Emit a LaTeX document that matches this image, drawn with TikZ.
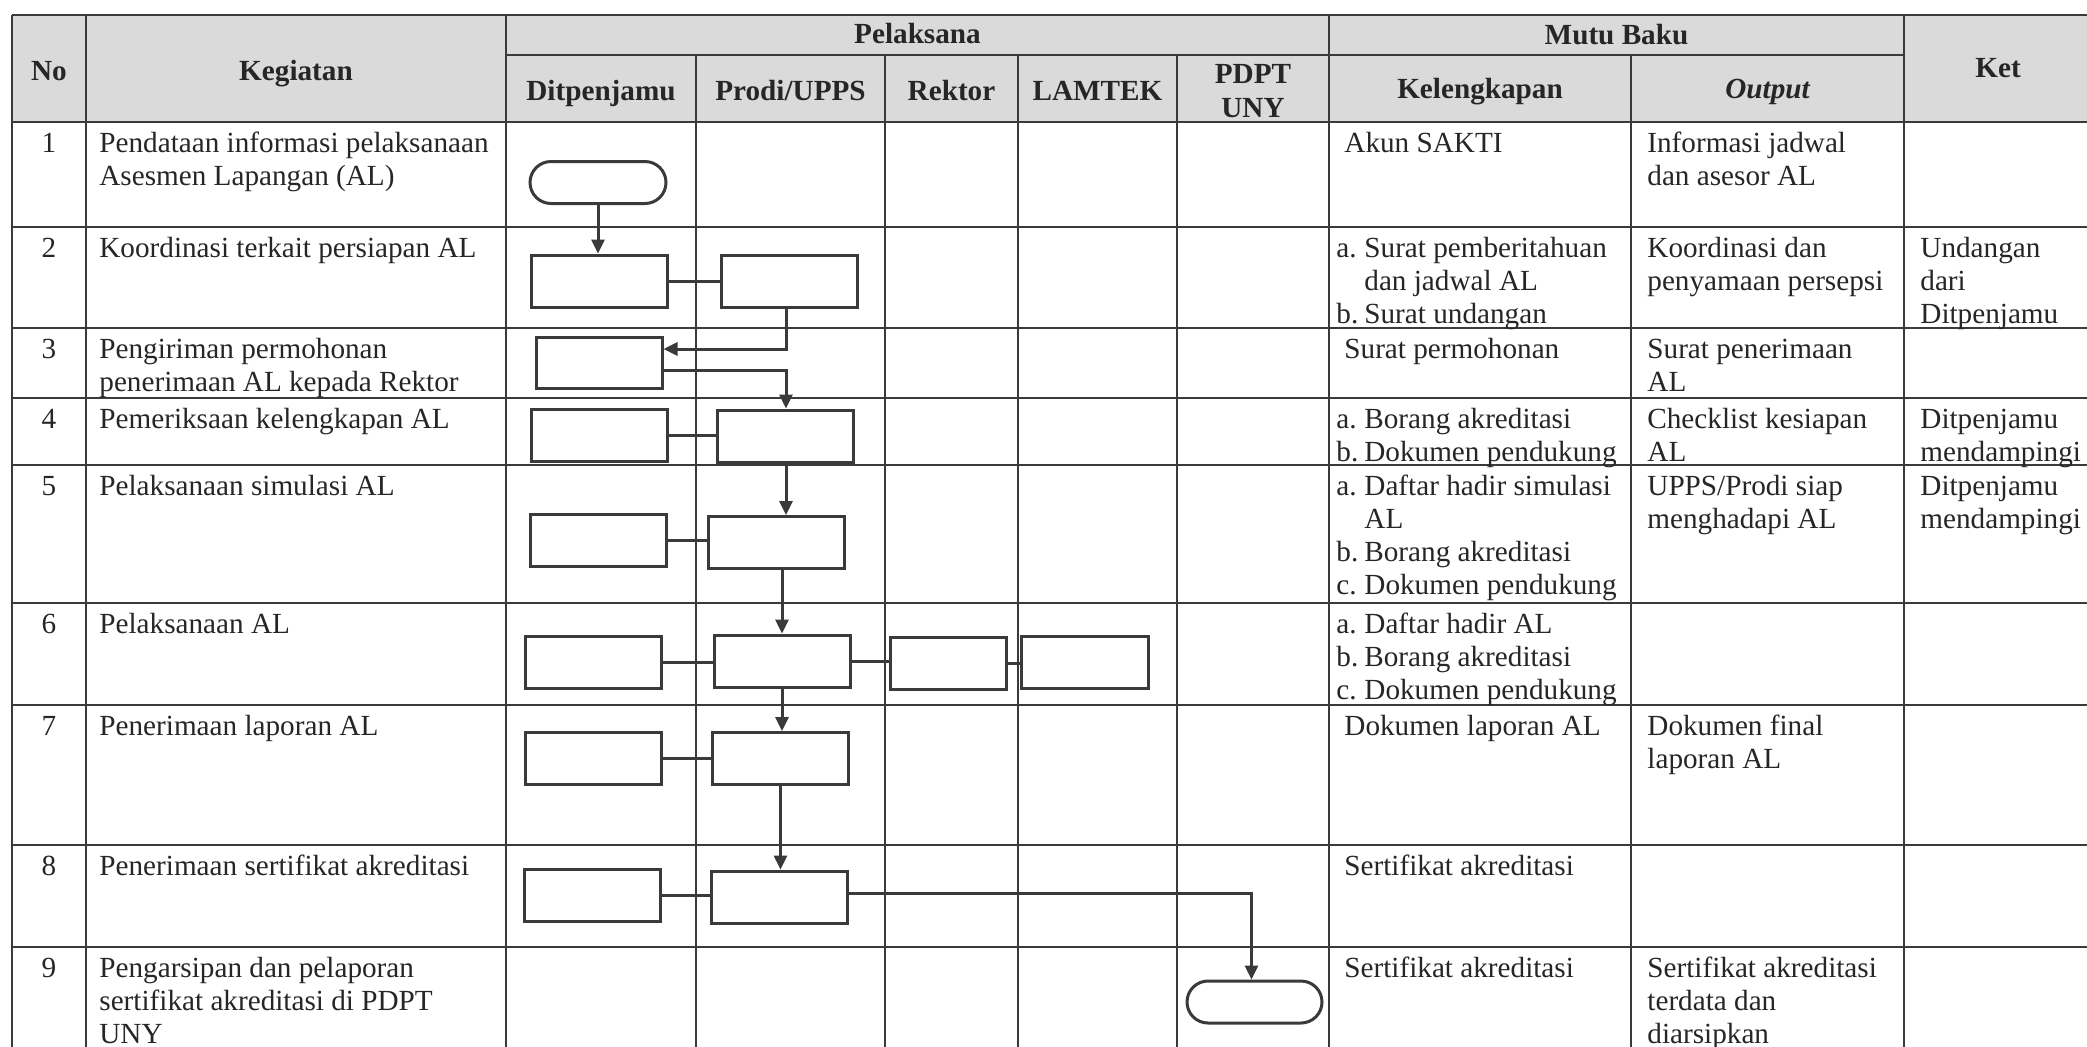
\documentclass[tikz,border=0pt]{standalone}
\usepackage{fontspec}
\setmainfont{Liberation Serif}
\usetikzlibrary{arrows.meta,shapes.misc}
\definecolor{ln}{HTML}{3A3A3A}
\definecolor{tx}{HTML}{262626}
\definecolor{hd}{HTML}{DADADA}
\newcommand{\kitem}[1]{\makebox[14pt][l]{#1}}
\newcommand{\kind}{\hspace*{14pt}}
\newcommand{\bodysize}{\fontsize{14.6pt}{16.5pt}\selectfont}
\tikzset{
  gridline/.style={draw=ln, line width=0.9pt},
  procbox/.style={draw=ln, line width=1.5pt, fill=white, minimum width=68pt, minimum height=26pt, inner sep=0pt},
  term/.style={draw=ln, line width=1.5pt, fill=white, rounded rectangle, minimum width=68pt, minimum height=21pt, inner sep=0pt},
  flow/.style={draw=ln, line width=1.5pt, -{Triangle[length=7pt,width=6.5pt]}},
  link/.style={draw=ln, line width=1.5pt},
  hdr/.style={font=\bodysize\bfseries, text=tx, inner sep=0pt, anchor=base},
  cell/.style={text=tx, inner sep=0pt, anchor=north west, align=left},
  num/.style={text=tx, inner sep=0pt, anchor=north},
}
\begin{document}
\begin{tikzpicture}[x=0.5pt, y=-0.5pt, font=\bodysize]
\useasboundingbox (0,0) rectangle (2087,1046);
\clip (0,0) rectangle (2087,1046);
\fill[white] (0,0) rectangle (2087,1046);
% header fill
\fill[hd] (12,15) rectangle (2092,122);
% horizontal grid lines
\draw[gridline] (12,15) -- (2092,15);
\draw[gridline] (506,55) -- (1904,55);
\foreach \yy in {122,227,328,398,465,603,705,845,947,1050}
  \draw[gridline] (12,\yy) -- (2092,\yy);
% vertical grid lines
\foreach \xx in {12,86,506,1329,1904,2092}
  \draw[gridline] (\xx,15) -- (\xx,1050);
\foreach \xx in {696,885,1018,1177,1631}
  \draw[gridline] (\xx,55) -- (\xx,1050);

% header texts
\node[hdr] (hNo) at (49,80) {No};
\node[hdr] (hKeg) at (296,80) {Kegiatan};
\node[hdr] (hPel) at (917.5,43) {Pelaksana};
\node[hdr] (hMutu) at (1616.5,44) {Mutu Baku};
\node[hdr] (hKet) at (1998,77) {Ket};
\node[hdr] (hDit) at (601,100) {Ditpenjamu};
\node[hdr] (hPro) at (790.5,100) {Prodi/UPPS};
\node[hdr] (hRek) at (951.5,100) {Rektor};
\node[hdr] (hLam) at (1097.5,100) {LAMTEK};
\node[hdr] (hPd1) at (1253,83) {PDPT};
\node[hdr] (hPd2) at (1253,117) {UNY};
\node[hdr] (hKel) at (1480,98) {Kelengkapan};
\node[hdr, font=\bodysize\bfseries\itshape] (hOut) at (1767.5,98) {Output};

% row numbers
\foreach \n/\yy in {1/122,2/227,3/328,4/398,5/465,6/603,7/705,8/845,9/947}
  \node[num] (no\n) at (49,\yy+7) {\strut\n};

% Kegiatan
\node[cell] (k1) at (99,129) {\strut Pendataan informasi pelaksanaan\\Asesmen Lapangan (AL)};
\node[cell] (k2) at (99,234) {\strut Koordinasi terkait persiapan AL};
\node[cell] (k3) at (99,335) {\strut Pengiriman permohonan\\penerimaan AL kepada Rektor};
\node[cell] (k4) at (99,405) {\strut Pemeriksaan kelengkapan AL};
\node[cell] (k5) at (99,472) {\strut Pelaksanaan simulasi AL};
\node[cell] (k6) at (99,610) {\strut Pelaksanaan AL};
\node[cell] (k7) at (99,712) {\strut Penerimaan laporan AL};
\node[cell] (k8) at (99,852) {\strut Penerimaan sertifikat akreditasi};
\node[cell] (k9) at (99,954) {\strut Pengarsipan dan pelaporan\\sertifikat akreditasi di PDPT\\UNY};

% Kelengkapan
\node[cell] (l1) at (1344,129) {\strut Akun SAKTI};
\node[cell] (l2) at (1336,234) {\strut\kitem{a.}Surat pemberitahuan\\\kind dan jadwal AL\\\kitem{b.}Surat undangan};
\node[cell] (l3) at (1344,335) {\strut Surat permohonan};
\node[cell] (l4) at (1336,405) {\strut\kitem{a.}Borang akreditasi\\\kitem{b.}Dokumen pendukung};
\node[cell] (l5) at (1336,472) {\strut\kitem{a.}Daftar hadir simulasi\\\kind AL\\\kitem{b.}Borang akreditasi\\\kitem{c.}Dokumen pendukung};
\node[cell] (l6) at (1336,610) {\strut\kitem{a.}Daftar hadir AL\\\kitem{b.}Borang akreditasi\\\kitem{c.}Dokumen pendukung};
\node[cell] (l7) at (1344,712) {\strut Dokumen laporan AL};
\node[cell] (l8) at (1344,852) {\strut Sertifikat akreditasi};
\node[cell] (l9) at (1344,954) {\strut Sertifikat akreditasi};

% Output
\node[cell] (o1) at (1647,129) {\strut Informasi jadwal\\dan asesor AL};
\node[cell] (o2) at (1647,234) {\strut Koordinasi dan\\penyamaan persepsi};
\node[cell] (o3) at (1647,335) {\strut Surat penerimaan\\AL};
\node[cell] (o4) at (1647,405) {\strut Checklist kesiapan\\AL};
\node[cell] (o5) at (1647,472) {\strut UPPS/Prodi siap\\menghadapi AL};
\node[cell] (o7) at (1647,712) {\strut Dokumen final\\laporan AL};
\node[cell] (o9) at (1647,954) {\strut Sertifikat akreditasi\\terdata dan\\diarsipkan};

% Ket
\node[cell] (t2) at (1920,234) {\strut Undangan\\dari\\Ditpenjamu};
\node[cell] (t4) at (1920,405) {\strut Ditpenjamu\\mendampingi};
\node[cell] (t5) at (1920,472) {\strut Ditpenjamu\\mendampingi};

% flow shapes
\node[term] (start) at (598,182.5) {};
\node[procbox] (d2) at (599,281) {};
\node[procbox] (p2) at (789.5,281) {};
\node[procbox, minimum width=63pt, minimum height=25.5pt] (d3) at (599,362.5) {};
\node[procbox] (d4) at (599.5,435.5) {};
\node[procbox] (p4) at (785,436) {};
\node[procbox] (d5) at (598,540) {};
\node[procbox] (p5) at (776,542.5) {};
\node[procbox] (d6) at (593,662.5) {};
\node[procbox] (p6) at (782,661) {};
\node[procbox, minimum width=58pt] (r6) at (948,663.5) {};
\node[procbox, minimum width=63.5pt] (m6) at (1084.5,662.5) {};
\node[procbox] (d7) at (593,758) {};
\node[procbox] (p7) at (780.5,758.5) {};
\node[procbox] (d8) at (592.5,895) {};
\node[procbox] (p8) at (779,897) {};
\node[term, minimum width=67.5pt] (stop) at (1254.5,1002) {};

% connectors
\draw[flow] (start.south) -- (start.south |- d2.north);
\draw[link] (d2.east) -- (d2.east -| p2.west);
\draw[flow] ([xshift=-1.75pt]p2.south) |- ([yshift=6.75pt]d3.east);
\draw[flow] ([yshift=-3.75pt]d3.east) -| ([xshift=0.5pt]p4.north);
\draw[link] (d4.east) -- (d4.east -| p4.west);
\draw[flow] ([xshift=0.5pt]p4.south) -- ([xshift=0.5pt]p4.south |- p5.north);
\draw[link] (d5.east) -- (d5.east -| p5.west);
\draw[flow] (p6.north |- p5.south) -- (p6.north);
\draw[link] (d6.east) -- (d6.east -| p6.west);
\draw[link] (p6.east) -- (p6.east -| r6.west);
\draw[link] (r6.east) -- (r6.east -| m6.west);
\draw[flow] (p6.south) -- (p6.south |- p7.north);
\draw[link] (d7.east) -- (d7.east -| p7.west);
\draw[flow] (p7.south) -- (p7.south |- p8.north);
\draw[link] (d8.east) -- (d8.east -| p8.west);
\draw[flow] ([yshift=2pt]p8.east) -| ([xshift=-1.5pt]stop.north);
\end{tikzpicture}
\end{document}
